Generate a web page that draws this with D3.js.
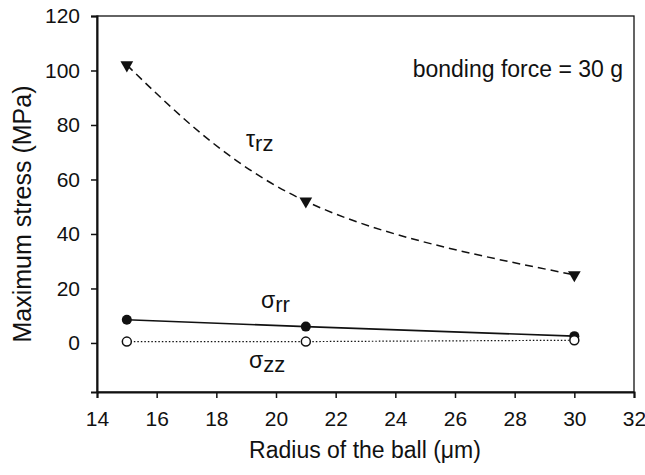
<!DOCTYPE html>
<html>
<head>
<meta charset="utf-8">
<script src="https://cdn.jsdelivr.net/npm/d3@7"></script>
<style>
  body { margin: 0; background: #fff; }
  text { font-family: "Liberation Sans", Arial, sans-serif; fill: #111; }
</style>
</head>
<body>
<script>
const radius = [15, 21, 30];
const tauRz = [102, 52, 25];
const sigmaRr = [8.5, 6, 2.5];
const sigmaZz = [0.5, 0.5, 1];
const xTicks = [14, 16, 18, 20, 22, 24, 26, 28, 30, 32];
const yTicks = [0, 20, 40, 60, 80, 100, 120];

const width = 645, height = 475;
const margin = { top: 16, right: 11, bottom: 83, left: 97 };

const svg = d3.select("body").append("svg")
    .attr("width", width)
    .attr("height", height);

const x = d3.scaleLinear().domain([14, 32]).range([margin.left, width - margin.right]);
const y = d3.scaleLinear().domain([-18, 120]).range([height - margin.bottom, margin.top]);

// frame
svg.append("rect")
    .attr("x", x(14)).attr("y", y(120))
    .attr("width", x(32) - x(14)).attr("height", y(-18) - y(120))
    .attr("fill", "none").attr("stroke", "#111").attr("stroke-width", 1.3);

const xAxis = svg.append("g")
    .attr("transform", `translate(0,${y(-18)})`)
    .call(d3.axisBottom(x).tickValues(xTicks).tickSize(6).tickPadding(13));
const yAxis = svg.append("g")
    .attr("transform", `translate(${x(14)},0)`)
    .call(d3.axisLeft(y).tickValues(yTicks).tickSize(6).tickPadding(11));

[xAxis, yAxis].forEach(g => {
    g.select(".domain").attr("stroke", "#111").attr("stroke-width", 2);
    g.selectAll(".tick line").attr("stroke", "#111").attr("stroke-width", 1.5);
    g.selectAll(".tick text").style("font-size", "21px").style("font-family", "Liberation Sans, Arial, sans-serif");
});

svg.append("text")
    .attr("x", 365).attr("y", 458)
    .attr("text-anchor", "middle").style("font-size", "23px")
    .text("Radius of the ball (μm)");

svg.append("text")
    .attr("transform", `translate(31,214) rotate(-90)`)
    .attr("text-anchor", "middle").style("font-size", "25px")
    .text("Maximum stress (MPa)");

function series(vals) { return radius.map((r, i) => [r, vals[i]]); }

const line = d3.line().x(d => x(d[0])).y(d => y(d[1]));
const curve = d3.line().x(d => x(d[0])).y(d => y(d[1])).curve(d3.curveNatural);

svg.append("path").datum(series(tauRz))
    .attr("d", curve).attr("fill", "none").attr("stroke", "#111")
    .attr("stroke-width", 1.5).attr("stroke-dasharray", "8,5");
svg.append("path").datum(series(sigmaRr))
    .attr("d", line).attr("fill", "none").attr("stroke", "#111").attr("stroke-width", 1.6);
svg.append("path").datum(series(sigmaZz))
    .attr("d", line).attr("fill", "none").attr("stroke", "#111")
    .attr("stroke-width", 1.2).attr("stroke-dasharray", "1.5,2");

const tri = d3.symbol().type(d3.symbolTriangle).size(70);
svg.selectAll(".tri").data(series(tauRz)).join("path")
    .attr("transform", d => `translate(${x(d[0])},${y(d[1])}) rotate(180)`)
    .attr("d", tri).attr("fill", "#111");

svg.selectAll(".rr").data(series(sigmaRr)).join("circle")
    .attr("cx", d => x(d[0])).attr("cy", d => y(d[1])).attr("r", 5)
    .attr("fill", "#111");
svg.selectAll(".zz").data(series(sigmaZz)).join("circle")
    .attr("cx", d => x(d[0])).attr("cy", d => y(d[1])).attr("r", 4.5)
    .attr("fill", "#fff").attr("stroke", "#111").attr("stroke-width", 1.5);

// labels
function greek(tx, ty, base, sub) {
    const t = svg.append("text").attr("x", tx).attr("y", ty).style("font-size", "23px");
    t.append("tspan").text(base);
    t.append("tspan").attr("dy", 4).style("font-size", "22px").text(sub);
}
greek(246, 147, "τ", "rz");
greek(261, 308, "σ", "rr");
greek(249, 368, "σ", "zz");

svg.append("text")
    .attr("x", 623).attr("y", 77).attr("text-anchor", "end")
    .style("font-size", "23px")
    .text("bonding force = 30 g");
</script>
</body>
</html>
